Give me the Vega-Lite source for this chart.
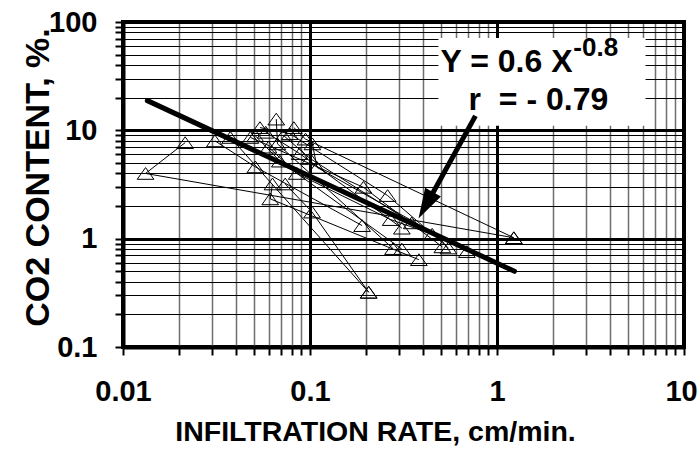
{
  "$schema": "https://vega.github.io/schema/vega-lite/v6.json",
  "width": 561,
  "height": 325,
  "autosize": "none",
  "padding": {"left": 123, "top": 22, "right": 15, "bottom": 102},
  "background": "white",
  "config": {
    "view": {"stroke": "black", "strokeWidth": 4},
    "font": "Liberation Sans"
  },
  "datasets": {
    "series": [
      {"s": 1, "o": 1, "x": 0.0215, "y": 7.7},
      {"s": 1, "o": 2, "x": 0.0132, "y": 4.0},
      {"s": 1, "o": 3, "x": 1.23, "y": 1.02},
      {"s": 2, "o": 1, "x": 0.031, "y": 8.0},
      {"s": 2, "o": 2, "x": 0.051, "y": 4.6},
      {"s": 2, "o": 3, "x": 0.19, "y": 1.32},
      {"s": 3, "o": 1, "x": 0.0375, "y": 8.6},
      {"s": 3, "o": 2, "x": 0.206, "y": 0.32},
      {"s": 4, "o": 1, "x": 0.048, "y": 8.6},
      {"s": 4, "o": 2, "x": 0.193, "y": 2.98},
      {"s": 4, "o": 3, "x": 0.51, "y": 0.84},
      {"s": 5, "o": 1, "x": 0.054, "y": 10.6},
      {"s": 5, "o": 2, "x": 0.078, "y": 9.3},
      {"s": 5, "o": 3, "x": 0.26, "y": 2.5},
      {"s": 5, "o": 4, "x": 0.55, "y": 0.82},
      {"s": 6, "o": 1, "x": 0.066, "y": 12.7},
      {"s": 6, "o": 2, "x": 0.067, "y": 7.5},
      {"s": 6, "o": 3, "x": 0.278, "y": 0.81},
      {"s": 7, "o": 1, "x": 0.082, "y": 10.6},
      {"s": 7, "o": 2, "x": 0.0946, "y": 8.3},
      {"s": 7, "o": 3, "x": 1.23, "y": 1.02},
      {"s": 8, "o": 1, "x": 0.051, "y": 8.9},
      {"s": 8, "o": 2, "x": 0.069, "y": 5.2},
      {"s": 8, "o": 3, "x": 0.31, "y": 0.8},
      {"s": 9, "o": 1, "x": 0.103, "y": 7.5},
      {"s": 9, "o": 2, "x": 0.109, "y": 4.55},
      {"s": 9, "o": 3, "x": 0.69, "y": 0.76},
      {"s": 10, "o": 1, "x": 0.063, "y": 3.2},
      {"s": 10, "o": 2, "x": 0.0613, "y": 2.33},
      {"s": 10, "o": 3, "x": 0.382, "y": 0.64},
      {"s": 11, "o": 1, "x": 0.0737, "y": 3.2},
      {"s": 11, "o": 2, "x": 0.1026, "y": 1.76},
      {"s": 11, "o": 3, "x": 0.206, "y": 0.32},
      {"s": 12, "o": 1, "x": 0.058, "y": 9.6},
      {"s": 12, "o": 2, "x": 0.088, "y": 6.1},
      {"s": 12, "o": 3, "x": 0.31, "y": 1.25},
      {"s": 13, "o": 1, "x": 0.06, "y": 7.0},
      {"s": 13, "o": 2, "x": 0.085, "y": 4.0},
      {"s": 13, "o": 3, "x": 0.27, "y": 1.5},
      {"s": 13, "o": 4, "x": 0.45, "y": 1.1},
      {"s": 14, "o": 1, "x": 0.072, "y": 9.0},
      {"s": 14, "o": 2, "x": 0.1, "y": 5.5},
      {"s": 14, "o": 3, "x": 0.35, "y": 1.4}
    ],
    "fit": [
      {"x": 0.0135, "y": 18.8},
      {"x": 1.24, "y": 0.5}
    ],
    "arrow": [
      {"x": 0.767, "y": 13.6},
      {"x": 0.44, "y": 2.4}
    ],
    "head": [{"x": 0.416, "y": 2.03}],
    "box": [{"x": 0.486, "x2": 6.23, "y": 71.1, "y2": 11.0}],
    "eq": [
      {"x": 0.499, "y": 34.6, "t": "Y = 0.6 X"},
      {"x": 0.705, "y": 15.5, "t": "r \u00a0= - 0.79"}
    ],
    "sup": [{"x": 2.56, "y": 48.5, "t": "-0.8"}]
  },
  "encoding": {
    "x": {
      "field": "x",
      "type": "quantitative",
      "scale": {"type": "log", "domain": [0.01, 10], "nice": false},
      "axis": {
        "values": [0.01, 0.02, 0.03, 0.04, 0.05, 0.06, 0.07, 0.08, 0.09, 0.1, 0.2, 0.3, 0.4, 0.5, 0.6, 0.7, 0.8, 0.9, 1, 2, 3, 4, 5, 6, 7, 8, 9, 10],
        "grid": true,
        "gridColor": {"condition": {"test": "abs(log(datum.value)/LN10 - round(log(datum.value)/LN10)) < 0.001", "value": "black"}, "value": "#6e6e6e"},
        "gridWidth": {"condition": {"test": "abs(log(datum.value)/LN10 - round(log(datum.value)/LN10)) < 0.001", "value": 3}, "value": 1.5},
        "gridOpacity": 1,
        "tickColor": "black",
        "tickWidth": 2,
        "tickSize": 8,
        "domainColor": "black",
        "domainWidth": 4,
        "labelExpr": "abs(log(datum.value)/LN10 - round(log(datum.value)/LN10)) < 0.001 ? format(datum.value, '~g') : ''",
        "labelOffset": {"condition": {"test": "datum.value > 9.5", "value": -3}, "value": 0},
        "labelFont": "Liberation Sans",
        "labelFontWeight": "bold",
        "labelFontSize": 29,
        "labelColor": "black",
        "labelPadding": 22,
        "labelOverlap": false,
        "labelFlush": false,
        "labelBound": false,
        "title": "INFILTRATION RATE, cm/min.",
        "titleFont": "Liberation Sans",
        "titleFontSize": 28.5,
        "titleFontWeight": "bold",
        "titleColor": "black",
        "titleX": 252,
        "titleY": 93,
        "titleAlign": "center",
        "titleBaseline": "alphabetic"
      }
    },
    "y": {
      "field": "y",
      "type": "quantitative",
      "scale": {"type": "log", "domain": [0.1, 100], "nice": false},
      "axis": {
        "values": [0.1, 0.2, 0.3, 0.4, 0.5, 0.6, 0.7, 0.8, 0.9, 1, 2, 3, 4, 5, 6, 7, 8, 9, 10, 20, 30, 40, 50, 60, 70, 80, 90, 100],
        "grid": true,
        "gridColor": "black",
        "gridWidth": {"condition": {"test": "abs(log(datum.value)/LN10 - round(log(datum.value)/LN10)) < 0.001", "value": 3}, "value": 1.2},
        "gridOpacity": 1,
        "tickColor": "black",
        "tickWidth": 2,
        "tickSize": 8,
        "domainColor": "black",
        "domainWidth": 4,
        "labelExpr": "abs(log(datum.value)/LN10 - round(log(datum.value)/LN10)) < 0.001 ? format(datum.value, '~g') : ''",
        "labelFont": "Liberation Sans",
        "labelFontWeight": "bold",
        "labelFontSize": 29,
        "labelColor": "black",
        "labelPadding": 18,
        "labelOverlap": false,
        "labelFlush": false,
        "labelBound": false,
        "title": "CO2 CONTENT, %.",
        "titleFont": "Liberation Sans",
        "titleFontSize": 34,
        "titleFontWeight": "bold",
        "titleColor": "black",
        "titleAngle": -90,
        "titleX": -75,
        "titleY": 155,
        "titleAlign": "center",
        "titleBaseline": "alphabetic"
      }
    }
  },
  "layer": [
    {
      "data": {"name": "box"},
      "mark": {"type": "rect", "fill": "white", "stroke": null},
      "encoding": {"x2": {"field": "x2"}, "y2": {"field": "y2"}}
    },
    {
      "data": {"name": "series"},
      "mark": {"type": "line", "color": "black", "strokeWidth": 1},
      "encoding": {
        "detail": {"field": "s", "type": "nominal"},
        "order": {"field": "o", "type": "quantitative"}
      }
    },
    {
      "data": {"name": "series"},
      "mark": {"type": "point", "shape": "M-1,0.7L0,-0.7L1,0.7Z", "size": 280, "filled": false, "stroke": "black", "strokeWidth": 1, "opacity": 1}
    },
    {
      "data": {"name": "fit"},
      "mark": {"type": "line", "color": "black", "strokeWidth": 5, "strokeCap": "round"}
    },
    {
      "data": {"name": "arrow"},
      "mark": {"type": "line", "color": "black", "strokeWidth": 5},
      "encoding": {"order": {"field": "y", "type": "quantitative", "sort": "descending"}}
    },
    {
      "data": {"name": "head"},
      "mark": {"type": "point", "shape": "M0,-1L0.6,1L-0.6,1Z", "size": 900, "angle": 209, "filled": true, "fill": "black", "stroke": null, "opacity": 1}
    },
    {
      "data": {"name": "eq"},
      "mark": {"type": "text", "align": "left", "baseline": "alphabetic", "font": "Liberation Sans", "fontWeight": "bold", "fontSize": 32, "color": "black"},
      "encoding": {"text": {"field": "t"}}
    },
    {
      "data": {"name": "sup"},
      "mark": {"type": "text", "align": "left", "baseline": "alphabetic", "font": "Liberation Sans", "fontWeight": "bold", "fontSize": 26, "color": "black"},
      "encoding": {"text": {"field": "t"}}
    }
  ]
}
